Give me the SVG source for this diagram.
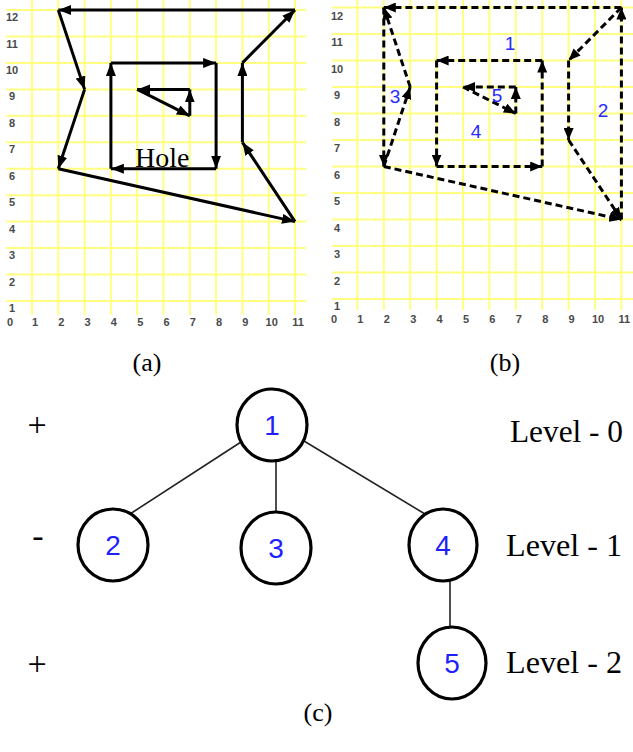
<svg xmlns="http://www.w3.org/2000/svg" width="633" height="752" viewBox="0 0 633 752">
<style>
.grid line{stroke:#ffff80;stroke-width:2}
.ax{font-family:"Liberation Sans",Arial,sans-serif;font-weight:bold;font-size:11px;fill:#4a4a4a;text-anchor:middle}
.sol{stroke:#000;stroke-width:3;fill:none;marker-end:url(#ah)}
.dsh{stroke:#000;stroke-width:3;fill:none;stroke-dasharray:7 4;marker-end:url(#ahd)}
.cap{font-family:"Liberation Serif","Times New Roman",serif;font-size:26px;fill:#000;text-anchor:middle}
.reg{font-family:"Liberation Sans",Arial,sans-serif;font-size:19px;fill:#2a2aff;text-anchor:middle}
.node ellipse{fill:#fff;stroke:#000;stroke-width:3.2}
.node text{font-family:"Liberation Sans",Arial,sans-serif;font-size:28px;fill:#1f1fff;text-anchor:middle}
.edge line{stroke:#222;stroke-width:1.6}
.lvl{font-family:"Liberation Serif","Times New Roman",serif;font-size:31px;fill:#000}
.sgn{font-family:"Liberation Serif","Times New Roman",serif;font-size:34px;fill:#000;text-anchor:middle}
</style>
<defs>
<marker id="ah" markerUnits="userSpaceOnUse" markerWidth="14" markerHeight="10" refX="13" refY="5" orient="auto"><path d="M0,0 L13,5 L0,10 z" fill="#000"/></marker>
<marker id="ahd" markerUnits="userSpaceOnUse" markerWidth="13" markerHeight="10" refX="12" refY="5" orient="auto"><path d="M0,0 L12,5 L0,10 z" fill="#000"/></marker>
</defs>
<rect width="633" height="752" fill="#fff"/>

<!-- Panel (a) grid -->
<g id="grid-a" class="grid">
<line x1="32" y1="0" x2="32" y2="315"/><line x1="58.3" y1="0" x2="58.3" y2="315"/><line x1="84.6" y1="0" x2="84.6" y2="315"/><line x1="110.9" y1="0" x2="110.9" y2="315"/><line x1="137.2" y1="0" x2="137.2" y2="315"/><line x1="163.5" y1="0" x2="163.5" y2="315"/><line x1="189.8" y1="0" x2="189.8" y2="315"/><line x1="216.1" y1="0" x2="216.1" y2="315"/><line x1="242.4" y1="0" x2="242.4" y2="315"/><line x1="268.7" y1="0" x2="268.7" y2="315"/><line x1="295" y1="0" x2="295" y2="315"/>
<line x1="6" y1="301" x2="306" y2="301"/><line x1="6" y1="274.5" x2="306" y2="274.5"/><line x1="6" y1="248" x2="306" y2="248"/><line x1="6" y1="221.6" x2="306" y2="221.6"/><line x1="6" y1="195.2" x2="306" y2="195.2"/><line x1="6" y1="168.7" x2="306" y2="168.7"/><line x1="6" y1="142.3" x2="306" y2="142.3"/><line x1="6" y1="115.8" x2="306" y2="115.8"/><line x1="6" y1="89.4" x2="306" y2="89.4"/><line x1="6" y1="62.9" x2="306" y2="62.9"/><line x1="6" y1="36.5" x2="306" y2="36.5"/><line x1="6" y1="10" x2="306" y2="10"/>
</g>
<g id="axis-a" class="ax">
<text x="12" y="21">12</text><text x="12" y="47.5">11</text><text x="12" y="74">10</text><text x="12" y="100.4">9</text><text x="12" y="126.8">8</text><text x="12" y="153.3">7</text><text x="12" y="179.7">6</text><text x="12" y="206.2">5</text><text x="12" y="232.6">4</text><text x="12" y="259">3</text><text x="12" y="285.5">2</text><text x="12" y="312">1</text>
<text x="10" y="326">0</text><text x="35" y="326">1</text><text x="61.3" y="326">2</text><text x="87.6" y="326">3</text><text x="113.9" y="326">4</text><text x="140.2" y="326">5</text><text x="166.5" y="326">6</text><text x="192.8" y="326">7</text><text x="219.1" y="326">8</text><text x="245.4" y="326">9</text><text x="271.7" y="326">10</text><text x="298" y="326">11</text>
</g>
<g id="connectors-a">
<line class="sol" x1="295" y1="10" x2="58.3" y2="10"/>
<line class="sol" x1="58.3" y1="10" x2="84.6" y2="89.4"/>
<line class="sol" x1="84.6" y1="89.4" x2="58.3" y2="168.7"/>
<line class="sol" x1="58.3" y1="168.7" x2="295" y2="221.6"/>
<line class="sol" x1="295" y1="221.6" x2="242.4" y2="142.3"/>
<line class="sol" x1="242.4" y1="142.3" x2="242.4" y2="62.9"/>
<line class="sol" x1="242.4" y1="62.9" x2="295" y2="10"/>
<line class="sol" x1="110.9" y1="62.9" x2="216.1" y2="62.9"/>
<line class="sol" x1="216.1" y1="62.9" x2="216.1" y2="168.7"/>
<line class="sol" x1="216.1" y1="168.7" x2="110.9" y2="168.7"/>
<line class="sol" x1="110.9" y1="168.7" x2="110.9" y2="62.9"/>
<line class="sol" x1="189.8" y1="89.4" x2="137.2" y2="89.4"/>
<line class="sol" x1="137.2" y1="89.4" x2="189.8" y2="115.8"/>
<line class="sol" x1="189.8" y1="115.8" x2="189.8" y2="89.4"/>
</g>
<text id="hole-label" x="135" y="167" font-family="'Liberation Serif','Times New Roman',serif" font-size="28" fill="#000">Hole</text>

<!-- Panel (b) grid -->
<g id="grid-b" class="grid">
<line x1="357.4" y1="0" x2="357.4" y2="310"/><line x1="383.8" y1="0" x2="383.8" y2="310"/><line x1="410.2" y1="0" x2="410.2" y2="310"/><line x1="436.6" y1="0" x2="436.6" y2="310"/><line x1="463" y1="0" x2="463" y2="310"/><line x1="489.4" y1="0" x2="489.4" y2="310"/><line x1="515.8" y1="0" x2="515.8" y2="310"/><line x1="542.2" y1="0" x2="542.2" y2="310"/><line x1="568.6" y1="0" x2="568.6" y2="310"/><line x1="595" y1="0" x2="595" y2="310"/><line x1="621.4" y1="0" x2="621.4" y2="310"/>
<line x1="332" y1="299" x2="633" y2="299"/><line x1="332" y1="272.5" x2="633" y2="272.5"/><line x1="332" y1="246" x2="633" y2="246"/><line x1="332" y1="219.5" x2="633" y2="219.5"/><line x1="332" y1="193" x2="633" y2="193"/><line x1="332" y1="166.5" x2="633" y2="166.5"/><line x1="332" y1="140" x2="633" y2="140"/><line x1="332" y1="113.5" x2="633" y2="113.5"/><line x1="332" y1="87" x2="633" y2="87"/><line x1="332" y1="60.5" x2="633" y2="60.5"/><line x1="332" y1="34" x2="633" y2="34"/><line x1="332" y1="7.5" x2="633" y2="7.5"/>
</g>
<g id="axis-b" class="ax">
<text x="337" y="19.5">12</text><text x="337" y="46">11</text><text x="337" y="72.5">10</text><text x="337" y="99">9</text><text x="337" y="125.5">8</text><text x="337" y="152">7</text><text x="337" y="178.5">6</text><text x="337" y="205">5</text><text x="337" y="231.5">4</text><text x="337" y="258">3</text><text x="337" y="284.5">2</text><text x="337" y="310">1</text>
<text x="334" y="323">0</text><text x="360.4" y="323">1</text><text x="386.8" y="323">2</text><text x="413.2" y="323">3</text><text x="439.6" y="323">4</text><text x="466" y="323">5</text><text x="492.4" y="323">6</text><text x="518.8" y="323">7</text><text x="545.2" y="323">8</text><text x="571.6" y="323">9</text><text x="598" y="323">10</text><text x="624.4" y="323">11</text>
</g>
<g id="connectors-b">
<line class="dsh" x1="621.4" y1="7.5" x2="383.8" y2="7.5"/>
<line class="dsh" x1="383.8" y1="7.5" x2="383.8" y2="166.5"/>
<line class="dsh" x1="383.8" y1="166.5" x2="410.2" y2="87"/>
<line class="dsh" x1="410.2" y1="87" x2="383.8" y2="7.5"/>
<line class="dsh" x1="383.8" y1="166.5" x2="621.4" y2="219.5"/>
<line class="dsh" x1="621.4" y1="7.5" x2="568.6" y2="60.5"/>
<line class="dsh" x1="568.6" y1="60.5" x2="568.6" y2="140"/>
<line class="dsh" x1="568.6" y1="140" x2="621.4" y2="219.5"/>
<line class="dsh" x1="621.4" y1="219.5" x2="621.4" y2="7.5"/>
<line class="dsh" x1="542.2" y1="60.5" x2="436.6" y2="60.5"/>
<line class="dsh" x1="436.6" y1="60.5" x2="436.6" y2="166.5"/>
<line class="dsh" x1="436.6" y1="166.5" x2="542.2" y2="166.5"/>
<line class="dsh" x1="542.2" y1="166.5" x2="542.2" y2="60.5"/>
<line class="dsh" x1="515.8" y1="87" x2="463" y2="87"/>
<line class="dsh" x1="463" y1="87" x2="515.8" y2="113.5"/>
<line class="dsh" x1="515.8" y1="113.5" x2="515.8" y2="87"/>
</g>
<g id="region-labels">
<text class="reg" x="510" y="50">1</text>
<text class="reg" x="603" y="117">2</text>
<text class="reg" x="395" y="103">3</text>
<text class="reg" x="497" y="102" font-size="16">5</text>
<text class="reg" x="476" y="138">4</text>
</g>

<text class="cap" x="147" y="371">(a)</text>
<text class="cap" x="505" y="371">(b)</text>

<!-- Tree (c) -->
<g id="tree-edges" class="edge">
<line x1="241" y1="442" x2="130" y2="514"/>
<line x1="276" y1="461" x2="276" y2="512"/>
<line x1="304" y1="441" x2="425" y2="514"/>
<line x1="450" y1="581" x2="450" y2="627"/>
</g>
<g id="node1" class="node"><ellipse cx="272" cy="425" rx="35" ry="36"/><text x="272" y="435">1</text></g>
<g id="node2" class="node"><ellipse cx="113" cy="545" rx="35" ry="36"/><text x="113" y="555">2</text></g>
<g id="node3" class="node"><ellipse cx="276" cy="548" rx="35" ry="36"/><text x="276" y="558">3</text></g>
<g id="node4" class="node"><ellipse cx="443" cy="545" rx="34" ry="36"/><text x="443" y="555">4</text></g>
<g id="node5" class="node"><ellipse cx="452" cy="663" rx="34" ry="36"/><text x="452" y="673">5</text></g>

<text class="sgn" x="37" y="436">+</text>
<text class="sgn" x="38" y="547">-</text>
<text class="sgn" x="37" y="675">+</text>
<text class="lvl" x="510" y="442" textLength="113" lengthAdjust="spacingAndGlyphs">Level - 0</text>
<text class="lvl" x="506" y="556" textLength="116" lengthAdjust="spacingAndGlyphs">Level - 1</text>
<text class="lvl" x="506" y="673" textLength="116" lengthAdjust="spacingAndGlyphs">Level - 2</text>
<text class="cap" x="318" y="721">(c)</text>
</svg>
